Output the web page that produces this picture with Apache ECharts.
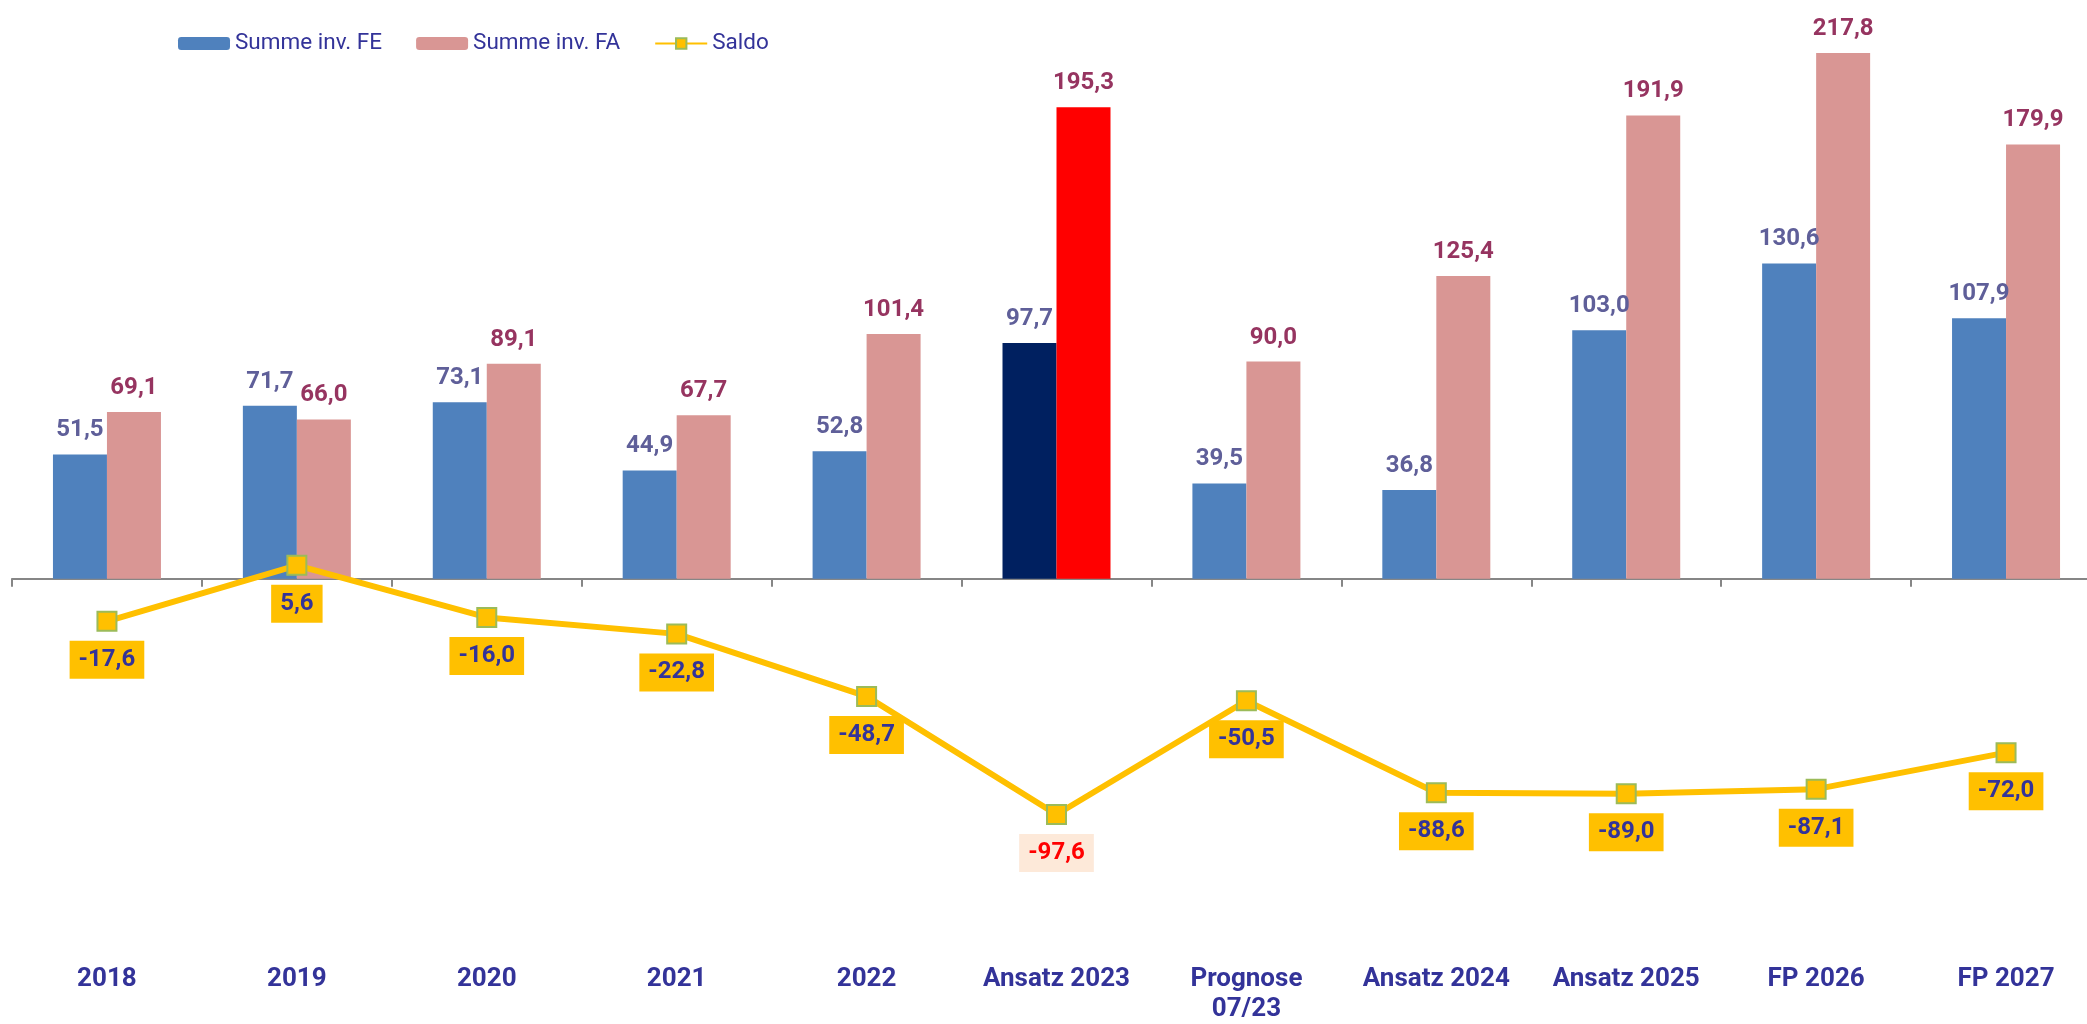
<!DOCTYPE html>
<html>
<head>
<meta charset="utf-8">
<script src="https://cdn.jsdelivr.net/npm/echarts@6/dist/echarts.min.js"></script>
<style>
html,body{margin:0;padding:0;background:#fff;overflow:hidden;width:2087px;height:1024px;}
#chart{width:2101px;height:1024px;}
</style>
</head>
<body>
<div id="chart"></div>
<script>
const categories = ['2018', '2019', '2020', '2021', '2022', 'Ansatz 2023', 'Prognose\n07/23', 'Ansatz 2024', 'Ansatz 2025', 'FP 2026', 'FP 2027'];
const feValues = [51.5, 71.7, 73.1, 44.9, 52.8, 97.7, 39.5, 36.8, 103.0, 130.6, 107.9];
const faValues = [69.1, 66.0, 89.1, 67.7, 101.4, 195.3, 90.0, 125.4, 191.9, 217.8, 179.9];
const saldoValues = [-17.6, 5.6, -16.0, -22.8, -48.7, -97.6, -50.5, -88.6, -89.0, -87.1, -72.0];
const highlightIndex = 5;

const fmt = v => v.toFixed(1).replace('.', ',');
const font = 'Roboto, "Noto Sans", sans-serif';

const feData = feValues.map((v, i) => i === highlightIndex ? { value: v, itemStyle: { color: '#002060' } } : v);
const faData = faValues.map((v, i) => i === highlightIndex ? { value: v, itemStyle: { color: '#FF0000' } } : v);
const saldoData = saldoValues.map((v, i) => i === highlightIndex ? {
  value: v,
  label: { color: '#FF0000', backgroundColor: '#FDE9D9' }
} : v);

const chart = echarts.init(document.getElementById('chart'), null, { renderer: 'canvas' });
chart.setOption({
  animation: false,
  backgroundColor: '#ffffff',
  textStyle: { fontFamily: font },
  legend: {
    left: 178,
    top: 32,
    padding: 0,
    itemWidth: 52,
    itemHeight: 13,
    itemGap: 34,
    textStyle: { fontFamily: font, fontSize: 22.5, color: '#333399' },
    data: ['Summe inv. FE', 'Summe inv. FA', 'Saldo']
  },
  grid: { left: 12, top: 23.5, right: 0, height: 928, containLabel: false },
  xAxis: [
    {
      type: 'category',
      data: categories,
      axisLine: { show: true, onZero: true, lineStyle: { color: '#868686', width: 2 } },
      axisTick: { show: true, length: 8, lineStyle: { color: '#868686', width: 2 } },
      axisLabel: { show: false }
    },
    {
      type: 'category',
      data: categories,
      position: 'bottom',
      axisLine: { show: false, onZero: false },
      axisTick: { show: false },
      axisLabel: {
        show: true,
        margin: 23,
        fontFamily: font,
        fontSize: 26,
        fontWeight: 'bold',
        color: '#333399',
        lineHeight: 30,
        interval: 0
      }
    }
  ],
  yAxis: {
    type: 'value',
    min: -150,
    max: 230,
    show: false,
    splitLine: { show: false }
  },
  series: [
    {
      name: 'Summe inv. FE',
      type: 'bar',
      xAxisIndex: 0,
      data: feData,
      barWidth: 54,
      barGap: '0%',
      itemStyle: { color: '#4F81BD' },
      label: {
        show: true,
        position: 'top',
        distance: 12,
        formatter: p => fmt(p.value),
        fontFamily: font,
        fontSize: 24,
        fontWeight: 'bold',
        color: '#5F5F99'
      },
      z: 2
    },
    {
      name: 'Summe inv. FA',
      type: 'bar',
      xAxisIndex: 0,
      data: faData,
      barWidth: 54,
      barGap: '0%',
      itemStyle: { color: '#D99694' },
      label: {
        show: true,
        position: 'top',
        distance: 12,
        formatter: p => fmt(p.value),
        fontFamily: font,
        fontSize: 24,
        fontWeight: 'bold',
        color: '#963460'
      },
      z: 2
    },
    {
      name: 'Saldo',
      type: 'line',
      xAxisIndex: 0,
      data: saldoData,
      symbol: 'rect',
      symbolSize: 19,
      lineStyle: { color: '#FFC000', width: 6 },
      itemStyle: { color: '#FFC000', borderColor: '#9BBB59', borderWidth: 2 },
      label: {
        show: true,
        position: 'bottom',
        distance: 9,
        formatter: p => fmt(p.value),
        fontFamily: font,
        fontSize: 24,
        fontWeight: 'bold',
        color: '#333399',
        backgroundColor: '#FFC000',
        padding: [7, 9, 7, 9]
      },
      z: 5
    }
  ]
});
</script>
</body>
</html>
